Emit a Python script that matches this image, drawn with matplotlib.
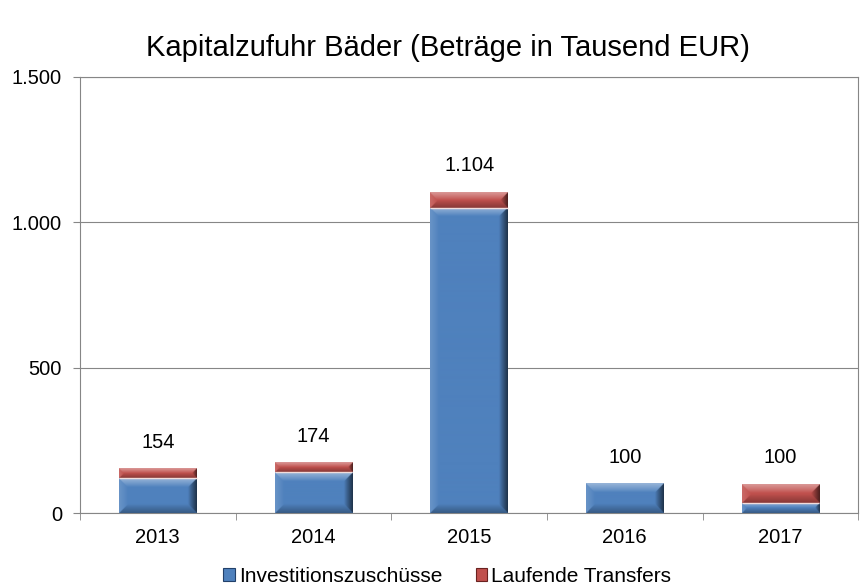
import numpy as np
import matplotlib.pyplot as plt
from matplotlib.colors import to_rgb
from matplotlib.patches import Patch
from matplotlib.ticker import FuncFormatter, FixedLocator

plt.rcParams['font.family'] = ['Liberation Sans', 'DejaVu Sans']

years = ["2013", "2014", "2015", "2016", "2017"]
invest = [120, 140, 1050, 100, 35]
transfers = [34, 34, 54, 0, 65]
totals = [a + b for a, b in zip(invest, transfers)]

series_names = ["Investitionszuschüsse", "Laufende Transfers"]
blue = "#4F81BD"
red = "#C0504D"


def bevel_img(color, w_px, h_px, b=7.0):
    """RGB image of a soft bevelled block, w_px x h_px pixels."""
    w_px, h_px = max(int(round(w_px)), 2), max(int(round(h_px)), 2)
    base = np.array(to_rgb(color))
    yy, xx = np.mgrid[0:h_px, 0:w_px] + 0.5
    bb = min(b, h_px / 2.0, w_px / 2.0)
    d_top, d_bot = yy, h_px - yy
    d_left, d_right = xx, w_px - xx
    dists = np.stack([d_top, d_left, d_bot, d_right])
    edge = np.argmin(dists, axis=0)
    dmin = np.min(dists, axis=0)
    k = np.clip(1 - dmin / bb, 0, 1) ** 0.9
    # +: lighten towards white, -: darken towards black
    amount = np.array([0.42, 0.15, -0.30, -0.62])[edge] * k
    img = np.empty((h_px, w_px, 3))
    for c in range(3):
        ch = base[c]
        img[..., c] = np.where(amount >= 0, ch + (1 - ch) * amount, ch * (1 + amount))
    return img


fig = plt.figure(figsize=(8.6, 5.87), dpi=100)
ax = fig.add_axes([0.093, 0.126, 0.905, 0.743])

x = np.arange(len(years))
w = 0.5
ax.set_xlim(-0.5, len(years) - 0.5)
ax.set_ylim(0, 1500)

b1 = ax.bar(x, invest, w, color=blue, zorder=2)
b2 = ax.bar(x, transfers, w, bottom=invest, color=red, zorder=2)

# pixel scale of the data axes, used to size the bevel images
bbox = ax.get_position()
px_x = bbox.width * fig.get_figwidth() * fig.dpi / len(years)
px_y = bbox.height * fig.get_figheight() * fig.dpi / 1500.0

for bars, col in ((b1, blue), (b2, red)):
    for rect in bars:
        h = rect.get_height()
        if h <= 0:
            continue
        x0, y0, rw = rect.get_x(), rect.get_y(), rect.get_width()
        img = bevel_img(col, rw * px_x * 2, h * px_y * 2, b=18.0)
        ax.imshow(img, extent=(x0, x0 + rw, y0, y0 + h), aspect="auto",
                  interpolation="bilinear", zorder=3)

# light seam between the stacked segments
for r1, r2 in zip(b1, b2):
    if r2.get_height() > 0:
        ax.plot([r1.get_x(), r1.get_x() + r1.get_width()], [r2.get_y()] * 2,
                color="#F2DCDB", lw=1.0, zorder=4, solid_capstyle="butt")

ax.set_xlim(-0.5, len(years) - 0.5)
ax.set_ylim(0, 1500)


def de_fmt(v, pos=None):
    return f"{int(round(v)):,}".replace(",", ".")


for xi, t in zip(x, totals):
    ax.annotate(de_fmt(t), (xi, t), xytext=(0, 12), textcoords="offset points",
                ha="center", va="bottom", fontsize=14.5)

ax.set_yticks([0, 500, 1000, 1500])
ax.yaxis.set_major_formatter(FuncFormatter(de_fmt))
ax.set_xticks(x)
ax.set_xticklabels(years)
ax.xaxis.set_minor_locator(FixedLocator(np.arange(-0.5, len(years), 1.0)))
ax.tick_params(axis="x", which="major", length=0, labelsize=14.5, pad=11)
ax.tick_params(axis="x", which="minor", length=5, color="#868686")
ax.tick_params(axis="y", length=5, color="#868686", labelsize=14.5, pad=8)

ax.grid(axis="y", color="#868686", lw=0.8, zorder=0)
for s in ax.spines.values():
    s.set_color("#868686")
    s.set_linewidth(0.8)

fig.text(0.521, 0.918, "Kapitalzufuhr Bäder (Beträge in Tausend EUR)",
         fontsize=21, ha="center", va="center")

handles = [Patch(facecolor=blue, edgecolor="#22406A", lw=0.8),
           Patch(facecolor=red, edgecolor="#6A2220", lw=0.8)]
fig.legend(handles, series_names, loc="lower center", ncol=2, frameon=False,
           fontsize=15, bbox_to_anchor=(0.52, -0.03), handlelength=0.55, handleheight=0.55,
           handletextpad=0.2, columnspacing=1.6)

fig.savefig("out.png", dpi=100)
